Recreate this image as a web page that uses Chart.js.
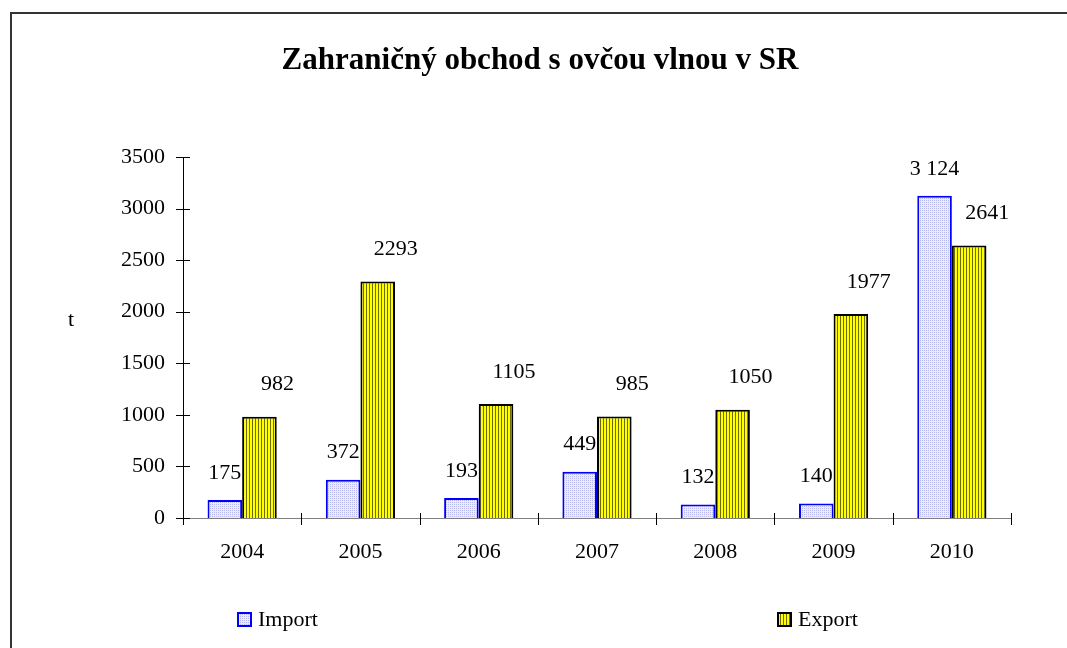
<!DOCTYPE html>
<html>
<head>
<meta charset="utf-8">
<script src="https://cdn.jsdelivr.net/npm/chart.js@4"></script>
<style>
  html, body { margin: 0; padding: 0; background: #fff; }
  #wrap { width: 1067px; height: 648px; }
</style>
</head>
<body>
<div id="wrap"><canvas id="chart" width="1067" height="648"></canvas></div>
<script>
// data
const years = ['2004', '2005', '2006', '2007', '2008', '2009', '2010'];
const importT = [175, 372, 193, 449, 132, 140, 3124];
const exportT = [982, 2293, 1105, 985, 1050, 1977, 2641];
const yTicks = [0, 500, 1000, 1500, 2000, 2500, 3000, 3500];

const serif = '"Liberation Serif", "Times New Roman", serif';

// fill patterns like the old excel hatching
function importPattern() {
  const c = document.createElement('canvas');
  c.width = 2; c.height = 2;
  const g = c.getContext('2d');
  g.fillStyle = '#ececff';
  g.fillRect(0, 0, 2, 2);
  g.fillStyle = '#b8b8f0';
  g.fillRect(0, 0, 1, 1);
  return g.createPattern(c, 'repeat');
}
function exportPattern() {
  const c = document.createElement('canvas');
  c.width = 3; c.height = 3;
  const g = c.getContext('2d');
  g.fillStyle = '#ffff00';
  g.fillRect(0, 0, 3, 3);
  g.fillStyle = '#6e6e00';
  g.fillRect(0, 0, 1, 3);
  return g.createPattern(c, 'repeat');
}

const fmtSpace = v => String(v).replace(/\B(?=(\d{3})+(?!\d))/g, ' ');

// frame, title, axis unit, crossing ticks, value labels and legend
const decor = {
  id: 'decor',
  beforeDraw(chart) {
    const ctx = chart.ctx;
    ctx.save();
    ctx.fillStyle = '#fff';
    ctx.fillRect(0, 0, chart.width, chart.height);
    ctx.strokeStyle = '#333';
    ctx.lineWidth = 2;
    ctx.beginPath();
    ctx.moveTo(11, chart.height);
    ctx.lineTo(11, 13);
    ctx.lineTo(chart.width, 13);
    ctx.stroke();
    ctx.restore();
  },
  afterDraw(chart) {
    const ctx = chart.ctx;
    const x = chart.scales.x, y = chart.scales.y;
    ctx.save();

    // title
    ctx.fillStyle = '#000';
    ctx.font = 'bold 31px ' + serif;
    ctx.textAlign = 'center';
    ctx.textBaseline = 'middle';
    ctx.fillText('Zahraničný obchod s ovčou vlnou v SR', 540, 61);

    // unit
    ctx.font = '22px ' + serif;
    ctx.fillText('t', 71, 320);

    // ticks crossing the axes
    ctx.strokeStyle = '#000';
    ctx.lineWidth = 1;
    ctx.beginPath();
    yTicks.forEach(v => {
      const py = Math.round(y.getPixelForValue(v)) + 0.5;
      ctx.moveTo(x.left - 7, py);
      ctx.lineTo(x.left + 7, py);
    });
    const step = (x.right - x.left) / years.length;
    for (let i = 0; i <= years.length; i++) {
      const px = Math.round(x.left + i * step) + 0.5;
      ctx.moveTo(px, y.bottom - 5);
      ctx.lineTo(px, y.bottom + 7);
    }
    ctx.stroke();

    // value labels
    ctx.font = '22px ' + serif;
    ctx.fillStyle = '#000';
    const m0 = chart.getDatasetMeta(0), m1 = chart.getDatasetMeta(1);
    m0.data.forEach((bar, i) => {
      ctx.fillText(fmtSpace(importT[i]), bar.x, bar.y - 27);
    });
    m1.data.forEach((bar, i) => {
      ctx.fillText(String(exportT[i]), bar.x + 18, bar.y - 32);
    });

    // legend
    const items = [
      { text: 'Import', x: 238, fill: chart.data.datasets[0].backgroundColor, border: '#0000ff' },
      { text: 'Export', x: 778, fill: chart.data.datasets[1].backgroundColor, border: '#000' }
    ];
    ctx.textAlign = 'left';
    items.forEach(it => {
      ctx.fillStyle = it.fill;
      ctx.fillRect(it.x, 613, 13, 13);
      ctx.strokeStyle = it.border;
      ctx.lineWidth = 2;
      ctx.strokeRect(it.x, 613, 13, 13);
      ctx.fillStyle = '#000';
      ctx.fillText(it.text, it.x + 20, 620);
    });
    ctx.restore();
  }
};

new Chart(document.getElementById('chart'), {
  type: 'bar',
  data: {
    labels: years,
    datasets: [
      {
        label: 'Import',
        data: importT,
        backgroundColor: importPattern(),
        borderColor: '#0000ff',
        borderWidth: 2,
        borderSkipped: 'bottom',
        categoryPercentage: 0.585,
        barPercentage: 1
      },
      {
        label: 'Export',
        data: exportT,
        backgroundColor: exportPattern(),
        borderColor: '#000',
        borderWidth: 2,
        borderSkipped: 'bottom',
        categoryPercentage: 0.585,
        barPercentage: 1
      }
    ]
  },
  options: {
    responsive: false,
    animation: false,
    layout: { padding: { left: 0, top: 157, right: 56, bottom: 0 } },
    plugins: {
      legend: { display: false },
      tooltip: { enabled: false },
      title: { display: false }
    },
    scales: {
      x: {
        offset: true,
        grid: { display: false },
        border: { display: true, color: '#808080', width: 1 },
        ticks: { color: '#000', font: { family: serif, size: 22 }, padding: 13 },
        afterFit(s) { s.height = 130; }
      },
      y: {
        min: 0,
        max: 3500,
        grid: { display: false },
        border: { display: true, color: '#000', width: 1 },
        ticks: {
          stepSize: 500,
          color: '#000',
          font: { family: serif, size: 22 },
          padding: 10,
          callback: v => String(v)
        },
        afterFit(s) { s.width = 183; }
      }
    }
  },
  plugins: [decor]
});
</script>
</body>
</html>
